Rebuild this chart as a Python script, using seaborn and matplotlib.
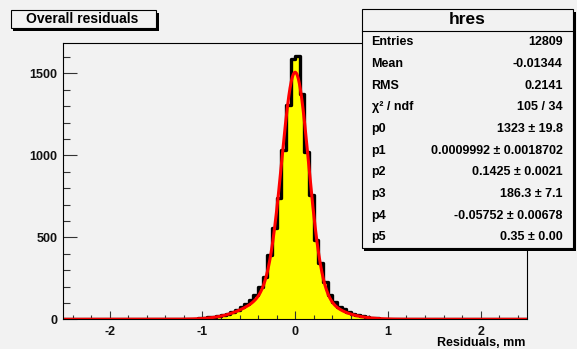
import numpy as np
import pandas as pd
import matplotlib
matplotlib.use("Agg")
import matplotlib.pyplot as plt
from matplotlib.patches import Rectangle
from matplotlib.lines import Line2D
from matplotlib.ticker import MultipleLocator
import seaborn as sns

# ---------------- data ----------------
x_range = [-2.5, 2.5]
n_bins = 100
first_filled_edge = -1.10
counts_filled = [3, 5, 8, 11, 15, 20, 27, 35, 45, 58, 74, 92, 118, 150, 195,
                 260, 392, 554, 737, 1031, 1305, 1590, 1607, 1375, 1021, 757,
                 484, 341, 225, 150, 105, 78, 60, 45, 35, 26, 20, 14, 9, 6, 4, 3]
fit_params = [1323.0, 0.0009992, 0.1425, 186.3, -0.05752, 0.35]

title_text = "Overall residuals"
xlabel_text = "Residuals, mm"
stats_title = "hres"
stats_labels = ["Entries", "Mean", "RMS", "\u03c7\u00b2 / ndf", "p0", "p1", "p2", "p3", "p4", "p5"]
stats_values = ["12809", "-0.01344", "0.2141", "105 / 34", "1323 \u00b1 19.8",
                "0.0009992 \u00b1 0.0018702", "0.1425 \u00b1 0.0021", "186.3 \u00b1 7.1",
                "-0.05752 \u00b1 0.00678", "0.35 \u00b1 0.00"]
y_major_ticks = [0, 500, 1000, 1500]
x_major_ticks = [-2, -1, 0, 1, 2]

# ---------------- build table ----------------
edges = np.linspace(x_range[0], x_range[1], n_bins + 1)
centers = 0.5 * (edges[:-1] + edges[1:])
counts = np.zeros(n_bins)
i0 = int(round((first_filled_edge - x_range[0]) / (edges[1] - edges[0])))
counts[i0:i0 + len(counts_filled)] = counts_filled
df = pd.DataFrame({"x": centers, "w": counts})

xs = np.linspace(x_range[0], x_range[1], 1500)
p0, p1, p2, p3, p4, p5 = fit_params
fit_y = p0 * np.exp(-0.5 * ((xs - p1) / p2) ** 2) + p3 * np.exp(-0.5 * ((xs - p4) / p5) ** 2)
fit_df = pd.DataFrame({"x": xs, "y": fit_y})

# ---------------- style ----------------
W, H = 577, 349
bg = "#f2f2f2"
plt.rcParams["font.family"] = ["Liberation Sans", "DejaVu Sans"]
plt.rcParams["font.weight"] = "bold"
plt.rcParams["axes.unicode_minus"] = False

fig = plt.figure(figsize=(W / 100, H / 100), dpi=100)
fig.patch.set_facecolor(bg)

def fx(px):
    return px / W

def fy(py):
    return 1 - py / H

L, R, T, B = 63.3, 527.0, 42.7, 319.3
ax = fig.add_axes([fx(L), fy(B), fx(R) - fx(L), fy(T) - fy(B)])
ax.set_facecolor(bg)

sns.histplot(data=df, x="x", weights="w", bins=n_bins, binrange=tuple(x_range),
             element="step", fill=True, color="#ffff00", alpha=1, linewidth=0, ax=ax)
sns.histplot(data=df, x="x", weights="w", bins=n_bins, binrange=tuple(x_range),
             element="step", fill=False, color="black", linewidth=2.4, ax=ax)
sns.lineplot(data=fit_df, x="x", y="y", color="#ff0000", linewidth=2.2, ax=ax)

ax.set_xlim(x_range)
ax.set_ylim(0, 1687)
ax.set_xlabel("")
ax.set_ylabel("")
ax.set_xticks(x_major_ticks)
ax.set_yticks(y_major_ticks)
ax.xaxis.set_minor_locator(MultipleLocator(0.2))
ax.yaxis.set_minor_locator(MultipleLocator(100))
ax.tick_params(axis="both", which="both", direction="in", top=False, right=False,
               color="#333333", width=0.8, labelsize=9, labelcolor="#111111")
ax.tick_params(axis="y", which="major", length=10, pad=4)
ax.tick_params(axis="y", which="minor", length=5)
ax.tick_params(axis="x", which="major", length=6, pad=4.5)
ax.tick_params(axis="x", which="minor", length=3)
for lab in ax.get_xticklabels() + ax.get_yticklabels():
    lab.set_fontweight("bold")
for s in ax.spines.values():
    s.set_linewidth(0.8)
    s.set_color("black")

fig.text(fx(525), fy(342.5), xlabel_text, ha="right", va="center", fontsize=9, fontweight="bold")

# ---------------- title box ----------------
def pave(x0, y0, x1, y1, shadow=2.5):
    fig.add_artist(Rectangle((fx(x0 + shadow), fy(y1 + shadow)), fx(x1) - fx(x0), fy(y0) - fy(y1),
                             transform=fig.transFigure, facecolor="black", edgecolor="none", zorder=5))
    fig.add_artist(Rectangle((fx(x0), fy(y1)), fx(x1) - fx(x0), fy(y0) - fy(y1),
                             transform=fig.transFigure, facecolor=bg, edgecolor="black",
                             linewidth=0.8, zorder=6))

pave(10.7, 10.0, 156.0, 28.3)
fig.text(fx(82), fy(19.3), title_text, ha="center", va="center", fontsize=10,
         fontweight="bold", zorder=7)

# ---------------- stats box ----------------
sx0, sy0, sx1, sy1 = 361.7, 9.3, 573.0, 248.3
pave(sx0, sy0, sx1, sy1)
fig.add_artist(Line2D([fx(sx0), fx(sx1)], [fy(30.7), fy(30.7)], transform=fig.transFigure,
                      color="black", linewidth=0.8, zorder=7))
fig.text(fx((sx0 + sx1) / 2), fy(20.0), stats_title, ha="center", va="center",
         fontsize=12.5, fontweight="bold", zorder=7)
row_y0, row_dy = 42.2, 21.68
for i, (lab, val) in enumerate(zip(stats_labels, stats_values)):
    yy = fy(row_y0 + i * row_dy)
    fig.text(fx(371.5), yy, lab, ha="left", va="center", fontsize=9, fontweight="bold", zorder=7)
    fig.text(fx(562.7), yy, val, ha="right", va="center", fontsize=9, fontweight="bold", zorder=7)

fig.savefig("out.png", dpi=100, facecolor=bg)
